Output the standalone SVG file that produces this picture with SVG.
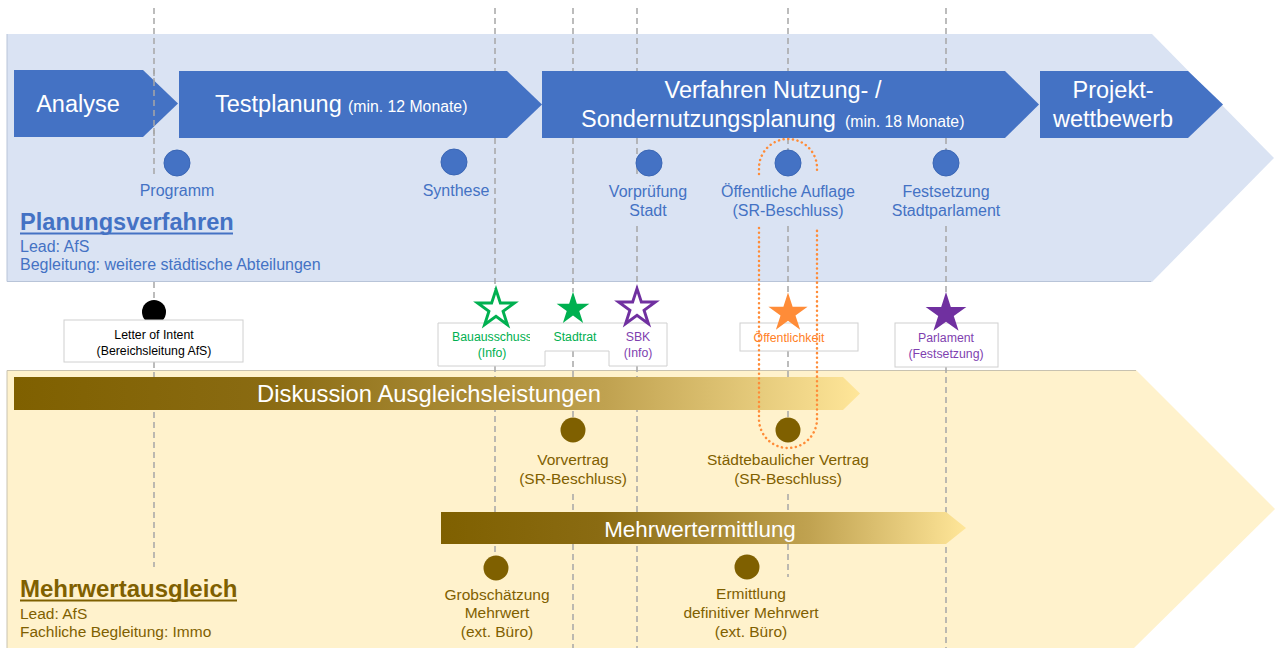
<svg xmlns="http://www.w3.org/2000/svg" xmlns:xlink="http://www.w3.org/1999/xlink" width="1280" height="648" viewBox="0 0 1280 648">
<style>
text{font-family:"Liberation Sans",Arial,sans-serif}
.w{fill:#fff}
.big{font-size:23.5px}
.sm{font-size:15.8px}
.bl{fill:#4472C4;font-size:16px}
.gd{fill:#7F6000;font-size:15.5px}
.lb{font-size:12.3px}
.dash{stroke:#A6A6A6;stroke-width:1.5;stroke-dasharray:6 4;fill:none}
.arr{fill:#4472C4}
.bdot{fill:#4472C4;stroke:#3A66B5;stroke-width:1}
.gdot{fill:#7F6000}
.box{fill:#fff;stroke:#D0D0D0;stroke-width:1}
.orng{fill:none;stroke:#FF8C38;stroke-width:2.5;stroke-dasharray:0.1 4.6;stroke-linecap:round}
</style>
<defs>
<polygon id="star" points="0,-20 4.49,-6.18 19.02,-6.18 7.27,2.36 11.76,16.18 0,7.64 -11.76,16.18 -7.27,2.36 -19.02,-6.18 -4.49,-6.18"/>
<linearGradient id="gold" x1="0" y1="0" x2="1" y2="0">
<stop offset="0" stop-color="#7F6000"/>
<stop offset="0.3" stop-color="#8A6B12"/>
<stop offset="0.7" stop-color="#C0A250"/>
<stop offset="1" stop-color="#FFE699"/>
</linearGradient>
<clipPath id="clipBau"><rect x="430" y="320" width="100" height="50"/></clipPath>
</defs>

<g id="band-planung">
<polygon points="7,34 1152,34 1274,158 1152,282 7,282" fill="#DAE3F3"/>
<polyline points="7,34 7,281.5 1151,281.5" fill="none" stroke="#B8C4D8" stroke-width="1"/>
</g>
<g id="band-mehrwert">
<polygon points="7,370 1136,370 1275,509 1134,648 7,648" fill="#FFF2CC"/>
<polyline points="7,648 7,370.5 1136,370.5" fill="none" stroke="#C8C2B0" stroke-width="1"/>
</g>

<g id="connectors">
<path class="dash" d="M154,8V175M154,282V300M154,362V567"/>
<path class="dash" d="M495,8V289M495,366V556"/>
<path class="dash" d="M573,8V292M573,351V418M573,494V648"/>
<path class="dash" d="M637,8V175M637,226V288M637,366V648"/>
<path class="dash" d="M788,8V150M788,226V292M788,351V418M788,494V577"/>
<path class="dash" d="M946,8V150M946,226V292M946,367V648"/>
</g>

<g id="phase-analyse">
<polygon class="arr" points="14,70 143,70 178,103.5 143,137 14,137"/>
<text class="w big" x="78" y="112" text-anchor="middle">Analyse</text>
</g>
<path class="dash" d="M154,70V137"/>
<g id="phase-testplanung">
<polygon class="arr" points="179,71 507,71 542,104.5 507,138 179,138"/>
<text class="w big" x="215" y="112">Testplanung</text>
<text class="w sm" x="348" y="112">(min. 12 Monate)</text>
</g>
<g id="phase-verfahren">
<polygon class="arr" points="542,71 1005,71 1039,104.5 1005,138 542,138"/>
<text class="w big" x="773" y="98" text-anchor="middle">Verfahren  Nutzung- /</text>
<text class="w big" x="581" y="127">Sondernutzungsplanung</text>
<text class="w sm" x="845" y="127">(min. 18 Monate)</text>
</g>
<g id="phase-projekt">
<polygon class="arr" points="1040,71 1188,71 1223,104.5 1188,138 1040,138"/>
<text class="w big" x="1113" y="98" text-anchor="middle">Projekt-</text>
<text class="w big" x="1113" y="127" text-anchor="middle">wettbewerb</text>
</g>

<g id="m-programm">
<circle class="bdot" cx="177" cy="163" r="13"/>
<text class="bl" x="177" y="196" text-anchor="middle">Programm</text>
</g>
<g id="m-synthese">
<circle class="bdot" cx="454" cy="162" r="13"/>
<text class="bl" x="456" y="196" text-anchor="middle">Synthese</text>
</g>
<g id="m-vorpruefung">
<circle class="bdot" cx="649" cy="163" r="13"/>
<text class="bl" x="648" y="197" text-anchor="middle">Vorprüfung</text>
<text class="bl" x="648" y="216" text-anchor="middle">Stadt</text>
</g>
<g id="m-auflage">
<circle class="bdot" cx="788" cy="163" r="13"/>
<text class="bl" x="788" y="197" text-anchor="middle">Öffentliche Auflage</text>
<text class="bl" x="788" y="216" text-anchor="middle">(SR-Beschluss)</text>
</g>
<g id="m-festsetzung">
<circle class="bdot" cx="946" cy="163" r="13"/>
<text class="bl" x="946" y="197" text-anchor="middle">Festsetzung</text>
<text class="bl" x="946" y="216" text-anchor="middle">Stadtparlament</text>
</g>

<g id="title-planung">
<text x="20" y="230" fill="#4472C4" font-size="23.6" font-weight="bold">Planungsverfahren</text>
<line x1="20" y1="233.5" x2="233" y2="233.5" stroke="#4472C4" stroke-width="1.8"/>
<text class="bl" x="20" y="252">Lead: AfS</text>
<text class="bl" x="20" y="270">Begleitung: weitere städtische Abteilungen</text>
</g>

<g id="m-letter">
<circle cx="154" cy="312" r="12" fill="#000"/>
<rect class="box" x="64" y="320" width="179" height="42"/>
<text class="lb" x="154" y="339" text-anchor="middle" fill="#000">Letter of Intent</text>
<text class="lb" x="154" y="355" text-anchor="middle" fill="#000">(Bereichsleitung AfS)</text>
</g>

<g id="m-gremien">
<path class="box" d="M438,323H667V366H609V351H545V366H438Z"/>
<use href="#star" transform="translate(496,309) scale(0.97)" fill="#fff" stroke="#00B050" stroke-width="3"/>
<use href="#star" transform="translate(573,309) scale(0.86)" fill="#00B050"/>
<use href="#star" transform="translate(637,308) scale(0.97)" fill="#fff" stroke="#7030A0" stroke-width="3"/>
<g clip-path="url(#clipBau)">
<text class="lb" x="492" y="341" text-anchor="middle" fill="#00B050">Bauausschuss</text>
</g>
<text class="lb" x="492" y="357" text-anchor="middle" fill="#00B050">(Info)</text>
<text class="lb" x="575" y="341" text-anchor="middle" fill="#00B050">Stadtrat</text>
<text class="lb" x="638" y="341" text-anchor="middle" fill="#7F3FB0">SBK</text>
<text class="lb" x="638" y="357" text-anchor="middle" fill="#7F3FB0">(Info)</text>
</g>
<g id="m-oeffentlichkeit">
<rect class="box" x="740" y="323" width="118" height="28"/>
<use href="#star" transform="translate(788,313) scale(1.03)" fill="#FF8C38"/>
<text class="lb" x="789" y="342" text-anchor="middle" fill="#FF7F27">Öffentlichkeit</text>
</g>
<g id="m-parlament">
<rect class="box" x="895" y="323" width="103" height="44"/>
<use href="#star" transform="translate(946,313.5) scale(1.07)" fill="#7030A0"/>
<text class="lb" x="946" y="342" text-anchor="middle" fill="#7F3FB0">Parlament</text>
<text class="lb" x="946" y="358" text-anchor="middle" fill="#7F3FB0">(Festsetzung)</text>
</g>

<g id="bar-diskussion">
<polygon points="14,377 843,377 860,393.5 843,410 14,410" fill="url(#gold)"/>
<text class="w" x="429" y="402" text-anchor="middle" font-size="23.8">Diskussion Ausgleichsleistungen</text>
</g>
<g id="bar-mehrwert">
<polygon points="441,512 946,512 966,528 946,544 441,544" fill="url(#gold)"/>
<text class="w" x="700" y="537" text-anchor="middle" font-size="22.4">Mehrwertermittlung</text>
</g>

<g id="m-vorvertrag">
<circle class="gdot" cx="573" cy="430" r="12.5"/>
<text class="gd" x="573" y="465" text-anchor="middle">Vorvertrag</text>
<text class="gd" x="573" y="484" text-anchor="middle">(SR-Beschluss)</text>
</g>
<g id="m-staedtebau">
<circle class="gdot" cx="788" cy="430" r="12.5"/>
<text class="gd" x="788" y="465" text-anchor="middle">Städtebaulicher Vertrag</text>
<text class="gd" x="788" y="484" text-anchor="middle">(SR-Beschluss)</text>
</g>
<g id="m-grobschaetzung">
<circle class="gdot" cx="496" cy="568" r="12.5"/>
<text class="gd" x="497" y="600" text-anchor="middle">Grobschätzung</text>
<text class="gd" x="497" y="618" text-anchor="middle">Mehrwert</text>
<text class="gd" x="497" y="637" text-anchor="middle">(ext. Büro)</text>
</g>
<g id="m-ermittlung">
<circle class="gdot" cx="747" cy="567" r="12.5"/>
<text class="gd" x="751" y="599" text-anchor="middle">Ermittlung</text>
<text class="gd" x="751" y="618" text-anchor="middle">definitiver Mehrwert</text>
<text class="gd" x="751" y="637" text-anchor="middle">(ext. Büro)</text>
</g>

<g id="title-mehrwert">
<text x="20" y="597" fill="#7F6000" font-size="24" font-weight="bold">Mehrwertausgleich</text>
<line x1="20" y1="600.5" x2="237" y2="600.5" stroke="#7F6000" stroke-width="1.8"/>
<text class="gd" x="20" y="619" font-size="15.8">Lead: AfS</text>
<text class="gd" x="20" y="637" font-size="15.8">Fachliche Begleitung: Immo</text>
</g>

<g id="highlight-oeffentlich">
<path class="orng" d="M759,174V168A29,29 0 0 1 817,168V174"/>
<path class="orng" d="M759,228V419A29,29 0 0 0 817,419V228"/>
</g>
</svg>
